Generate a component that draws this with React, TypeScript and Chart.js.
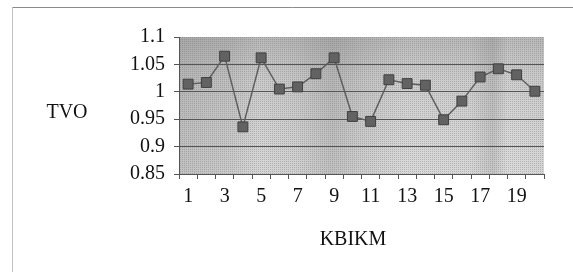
import React, { useEffect, useRef } from "react";
import { Chart, registerables } from "chart.js";

Chart.register(...registerables);

const categories = ["1","2","3","4","5","6","7","8","9","10","11","12","13","14","15","16","17","18","19","20"];
const tvoValues = [1.014, 1.017, 1.065, 0.936, 1.062, 1.005, 1.009, 1.033, 1.062, 0.955, 0.946, 1.022, 1.015, 1.012, 0.949, 0.983, 1.027, 1.042, 1.031, 1.001];
const yTicks = [0.85, 0.9, 0.95, 1, 1.05, 1.1];
const yTitle = "TVO";
const xTitle = "KBIKM";

const FONT = "'Liberation Serif', 'Times New Roman', serif";

const decorPlugin = {
  id: "decor",
  beforeDraw(chart: any) {
    const { ctx, chartArea: a } = chart;
    ctx.save();
    // outer frame
    ctx.strokeStyle = "#8a8a8a";
    ctx.lineWidth = 1;
    ctx.beginPath();
    ctx.moveTo(12, 7.5);
    ctx.lineTo(573, 7.5);
    ctx.stroke();
    ctx.strokeStyle = "#c0c0c0";
    ctx.beginPath();
    ctx.moveTo(12.5, 7);
    ctx.lineTo(12.5, 272);
    ctx.stroke();
    // plot background
    const w = a.right - a.left;
    const g = ctx.createLinearGradient(a.left, 0, a.right, 0);
    g.addColorStop(0, "#bdbdbd");
    g.addColorStop(0.14, "#c6c6c6");
    g.addColorStop(0.22, "#d3d3d3");
    g.addColorStop(0.32, "#cdcdcd");
    g.addColorStop(0.42, "#bcbcbc");
    g.addColorStop(0.5, "#c9c9c9");
    g.addColorStop(0.62, "#d6d6d6");
    g.addColorStop(0.8, "#d4d4d4");
    g.addColorStop(0.86, "#c0c0c0");
    g.addColorStop(0.9, "#d8d8d8");
    g.addColorStop(1, "#d2d2d2");
    ctx.fillStyle = g;
    ctx.fillRect(a.left, a.top, w, a.bottom - a.top);
    const v = ctx.createLinearGradient(0, a.top, 0, a.bottom);
    v.addColorStop(0, "rgba(110,110,110,0.28)");
    v.addColorStop(0.3, "rgba(120,120,120,0.1)");
    v.addColorStop(1, "rgba(255,255,255,0.05)");
    ctx.fillStyle = v;
    ctx.fillRect(a.left, a.top, w, a.bottom - a.top);
    // stipple
    ctx.fillStyle = "rgba(80,80,80,0.25)";
    for (let y = Math.ceil(a.top); y < a.bottom; y += 2) {
      for (let x = Math.ceil(a.left) + ((y / 2) % 2 === 0 ? 0 : 1); x < a.right; x += 2) {
        ctx.fillRect(x, y, 1, 1);
      }
    }
    ctx.restore();
  },
  afterDraw(chart: any) {
    const { ctx } = chart;
    ctx.save();
    ctx.fillStyle = "#111";
    ctx.font = `20px ${FONT}`;
    ctx.textAlign = "center";
    ctx.textBaseline = "middle";
    ctx.fillText(yTitle, 67, 113);
    ctx.fillText(xTitle, 353, 240);
    ctx.restore();
  },
};

export default function App() {
  const ref = useRef<HTMLCanvasElement | null>(null);
  useEffect(() => {
    if (!ref.current) return;
    const chart = new Chart(ref.current, {
      type: "line",
      data: {
        labels: categories,
        datasets: [
          {
            label: yTitle,
            data: tvoValues,
            borderColor: "#5e5e5e",
            borderWidth: 1.5,
            pointStyle: "rect",
            pointRadius: 7,
            pointBackgroundColor: "#626262",
            pointBorderColor: "#404040",
            pointBorderWidth: 1,
            tension: 0,
          },
        ],
      },
      options: {
        responsive: false,
        animation: false,
        layout: { padding: { left: 0, top: 37, right: 29, bottom: 0 } },
        plugins: { legend: { display: false }, tooltip: { enabled: false } },
        scales: {
          x: {
            type: "category",
            offset: true,
            grid: {
              offset: true,
              drawOnChartArea: false,
              drawTicks: true,
              tickLength: 5,
              color: "#555",
            },
            border: { display: true, color: "#555", width: 1 },
            ticks: {
              autoSkip: false,
              maxRotation: 0,
              padding: 6,
              color: "#111",
              font: { family: FONT, size: 20 },
              callback: (_v: any, i: number) => (i % 2 === 0 ? categories[i] : ""),
            },
            afterFit: (s: any) => {
              s.height = 98;
            },
          },
          y: {
            min: 0.85,
            max: 1.1,
            afterBuildTicks: (s: any) => {
              s.ticks = yTicks.map((v) => ({ value: v }));
            },
            grid: {
              color: (c: any) => (c.tick && c.tick.value === 1.1 ? "rgba(0,0,0,0)" : "#555"),
              tickColor: "#555",
              tickLength: 5,
              drawTicks: true,
            },
            border: { display: true, color: "#555", width: 1 },
            ticks: {
              padding: 9,
              color: "#111",
              font: { family: FONT, size: 20 },
              callback: (v: any) => String(Math.round(Number(v) * 100) / 100),
            },
            afterFit: (s: any) => {
              s.width = 179;
            },
          },
        },
      },
      plugins: [decorPlugin],
    });
    return () => chart.destroy();
  }, []);
  return (
    <div style={{ position: "absolute", left: 0, top: 0, width: 573, height: 272, background: "#fff" }}>
      <canvas ref={ref} width={573} height={272} style={{ display: "block" }} />
    </div>
  );
}
